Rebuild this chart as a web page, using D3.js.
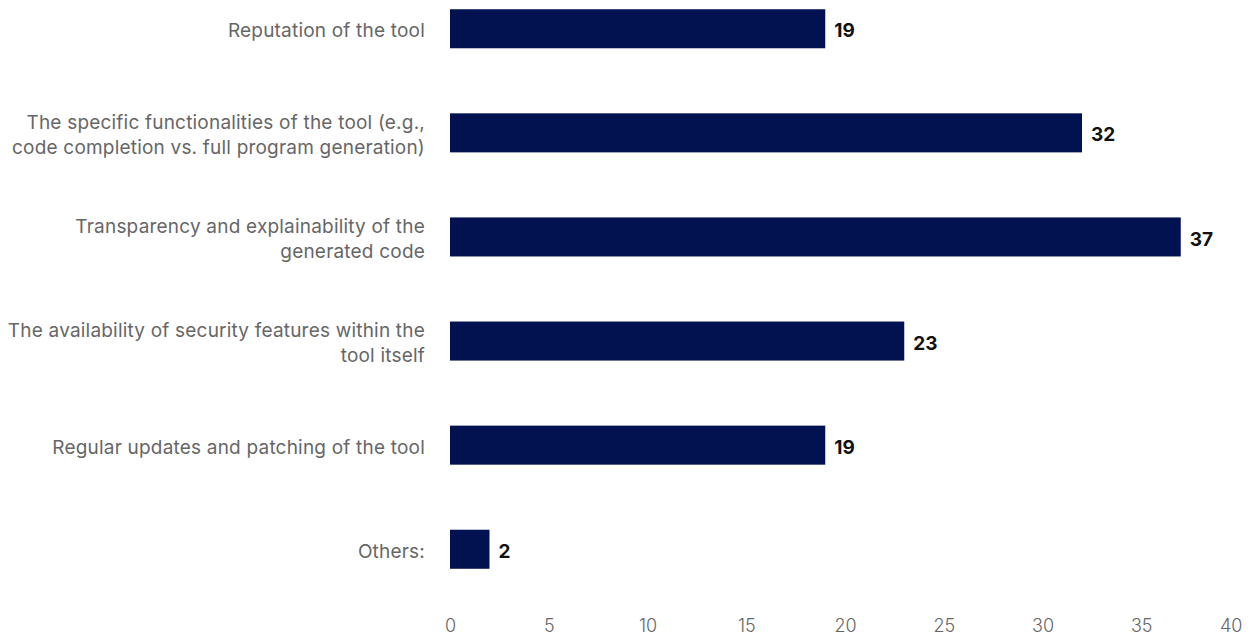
<!DOCTYPE html>
<html>
<head>
<meta charset="utf-8">
<script src="https://cdn.jsdelivr.net/npm/d3@7"></script>
<style>
  html, body { margin: 0; padding: 0; background: #fff; }
  svg { display: block; font-family: Inter, "Noto Sans", sans-serif; }
</style>
</head>
<body>
<svg id="chart" width="1252" height="638"></svg>
<script>
// Survey: factors considered when choosing an AI coding tool
const categories = [
  ["Reputation of the tool"],
  ["The specific functionalities of the tool (e.g.,", "code completion vs. full program generation)"],
  ["Transparency and explainability of the", "generated code"],
  ["The availability of security features within the", "tool itself"],
  ["Regular updates and patching of the tool"],
  ["Others:"]
];
const values = [19, 32, 37, 23, 19, 2];
const tickValues = [0, 5, 10, 15, 20, 25, 30, 35, 40];

const W = 1252, H = 638;
const margin = { top: -22, right: 12, bottom: 38, left: 450 };

const svg = d3.select("#chart");

const x = d3.scaleLinear()
  .domain([0, 40])
  .range([margin.left, W - margin.right]);

const y = d3.scaleBand()
  .domain(d3.range(categories.length))
  .range([margin.top, H - margin.bottom])
  .paddingInner(0.625)
  .paddingOuter(0.3);

// bars
svg.append("g")
  .selectAll("rect")
  .data(values)
  .join("rect")
  .attr("x", x(0))
  .attr("y", (d, i) => y(i))
  .attr("width", d => x(d) - x(0))
  .attr("height", y.bandwidth())
  .attr("fill", "#021150");

// value labels
svg.append("g")
  .selectAll("text")
  .data(values)
  .join("text")
  .attr("x", d => x(d) + 9)
  .attr("y", (d, i) => y(i) + y.bandwidth() / 2 + 2)
  .attr("dy", "0.35em")
  .attr("font-size", 19)
  .attr("font-weight", 700)
  .attr("fill", "#111")
  .text(d => d);

// category labels (right-aligned, wrapped)
const lineH = 25;
const cat = svg.append("g")
  .selectAll("text")
  .data(categories)
  .join("text")
  .attr("text-anchor", "end")
  .attr("font-size", 19)
  .attr("letter-spacing", "0.2px")
  .attr("fill", "#666");
cat.each(function (lines, i) {
  const cy = y(i) + y.bandwidth() / 2 + 2;
  const startY = cy - (lines.length - 1) * lineH / 2;
  d3.select(this).selectAll("tspan")
    .data(lines)
    .join("tspan")
    .attr("x", margin.left - 25)
    .attr("y", (d, j) => startY + j * lineH)
    .attr("dy", "0.35em")
    .text(d => d);
});

// x axis tick labels
const axis = d3.axisBottom(x)
  .tickValues(tickValues)
  .tickSize(0)
  .tickPadding(0);
const ax = svg.append("g")
  .attr("transform", `translate(0, ${H - 12})`)
  .call(axis);
ax.select(".domain").remove();
ax.selectAll("text")
  .attr("font-family", "Inter, 'Noto Sans', sans-serif")
  .attr("font-size", 18)
  .attr("font-weight", 300)
  .attr("fill", "#666")
  .attr("dy", "0.35em")
  .attr("y", 0);
// keep the last label inside the canvas
ax.selectAll(".tick").each(function (d) {
  const t = d3.select(this).select("text");
  const w = t.node().getComputedTextLength();
  const cx = x(d);
  if (cx + w / 2 > W - 10) {
    t.attr("text-anchor", "end").attr("x", W - 10 - cx);
  }
});
</script>
</body>
</html>
